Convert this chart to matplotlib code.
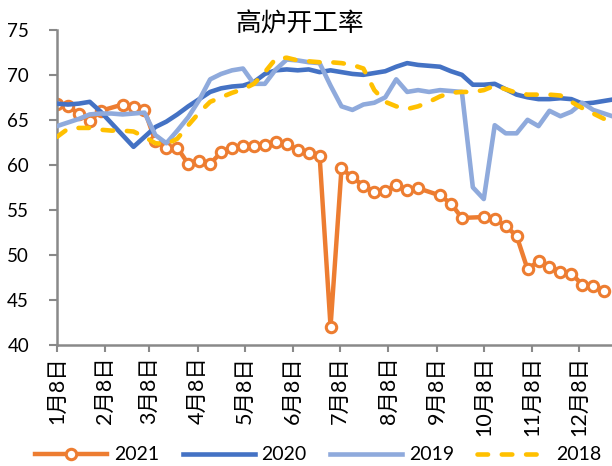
import matplotlib
matplotlib.use("Agg")
import matplotlib.pyplot as plt
import numpy as np
import pandas as pd

plt.rcParams['font.family'] = ['Lato', 'Noto Sans CJK SC', 'DejaVu Sans']

# weekly readings, Jan 8 .. Dec 31 (None = no reading that week)
weeks = pd.date_range('2021-01-08', periods=52, freq='7D')

y2021 = [66.8, 66.5, 65.7, 64.9, 66.0, None, 66.7, 66.4, 66.1, 62.6,
         61.9, 61.9, 60.1, 60.4, 60.1, 61.4, 61.9, 62.1, 62.1, 62.2,
         62.5, 62.3, 61.7, 61.3, 61.0, 42.0, 59.6, 58.6, 57.7, 57.0,
         57.1, 57.8, 57.2, 57.4, None, 56.6, 55.7, 54.1, None, 54.2,
         54.0, 53.2, 52.1, 48.4, 49.3, 48.7, 48.1, 47.9, 46.7, 46.5,
         46.0, None]

y2020 = [66.8, 66.7, 66.8, 67.0, 65.9, 64.6, 63.3, 62.0, 63.1, 64.2,
         64.8, 65.6, 66.5, 67.3, 68.1, 68.5, 68.7, 68.8, 69.2, 70.1,
         70.5, 70.6, 70.5, 70.6, 70.3, 70.5, 70.3, 70.1, 70.0, 70.2,
         70.4, 70.9, 71.3, 71.1, 71.0, 70.9, 70.4, 70.0, 68.9, 68.9,
         69.0, 68.4, 67.8, 67.5, 67.3, 67.3, 67.4, 67.3, 66.8, 66.9,
         67.1, 67.3]

y2019 = [64.3, 64.7, 65.1, 65.6, 65.7, 65.7, 65.6, 65.7, 65.8, 63.3,
         62.4, 63.8, 65.3, 67.2, 69.5, 70.1, 70.5, 70.7, 69.0, 69.0,
         70.6, 71.7, 71.6, 71.4, 71.3, 68.8, 66.5, 66.1, 66.7, 66.9,
         67.5, 69.5, 68.1, 68.3, 68.1, 68.3, 68.2, 68.1, 57.5, 56.2,
         64.4, 63.5, 63.5, 65.0, 64.3, 66.0, 65.4, 65.9, 66.9, 66.1,
         65.7, 65.3]

y2018 = [63.1, 64.0, 64.1, 64.1, 63.9, 63.8, 63.8, 63.7, 63.1, 62.4,
         62.3, 62.9, 64.4, 65.8, 67.0, 67.5, 68.0, 68.4, 69.0, 70.3,
         71.8, 71.9, 71.6, 71.5, 71.4, 71.4, 71.3, 71.1, 70.7, 68.3,
         67.0, 66.5, 66.2, 66.5, 67.0, 67.6, 68.0, 68.1, 68.1, 68.3,
         68.8, 68.4, 68.0, 67.8, 67.8, 67.8, 67.7, 67.0, 66.3, 65.7,
         65.1, 64.9]

month_ticks = pd.date_range('2021-01-01', periods=12, freq='MS') + pd.Timedelta(days=7)
tick_labels = ['%d月8日' % m for m in range(1, 13)]

fig = plt.figure(figsize=(6.12, 4.66), dpi=100)
ax = fig.add_axes([0.093, 0.26, 0.907, 0.676])

s = pd.Series(y2021, index=weeks, dtype=float).dropna()
ax.plot(s.index, s.values, color='#ED7D31', lw=3.2, marker='o', ms=7.5,
        mfc='white', mec='#ED7D31', mew=2.2, label='2021', zorder=2)
ax.plot(weeks, y2020, color='#4472C4', lw=3.3, label='2020', zorder=3)
ax.plot(weeks, y2019, color='#8FAADC', lw=3.3, label='2019', zorder=4)
ax.plot(weeks, y2018, color='#FFC000', lw=3.3, dashes=(2.3, 3.0),
        dash_capstyle='round', label='2018', zorder=5)

ax.set_ylim(40, 75)
ax.set_yticks(np.arange(40, 76, 5))
ax.set_xlim(pd.Timestamp('2021-01-08'), pd.Timestamp('2021-12-29'))
ax.set_xticks(month_ticks)
ax.set_xticklabels(tick_labels, rotation=90, fontsize=15.5)
ax.tick_params(axis='y', labelsize=13.5, length=6, width=1.5, color='#898989', pad=14)
ax.tick_params(axis='x', length=5, width=1.5, color='#898989', pad=3)

for side in ['top', 'right']:
    ax.spines[side].set_visible(False)
for side in ['left', 'bottom']:
    ax.spines[side].set_color('#898989')
    ax.spines[side].set_linewidth(1.8)

fig.text(0.49, 0.948, '高炉开工率', ha='center', va='center', fontsize=18.5)

fig.legend(loc='center', bbox_to_anchor=(0.52, 0.024), ncol=4, frameon=False,
           fontsize=14, handlelength=3.7, handletextpad=0.35, columnspacing=1.2)

fig.savefig('out.png', dpi=100)
